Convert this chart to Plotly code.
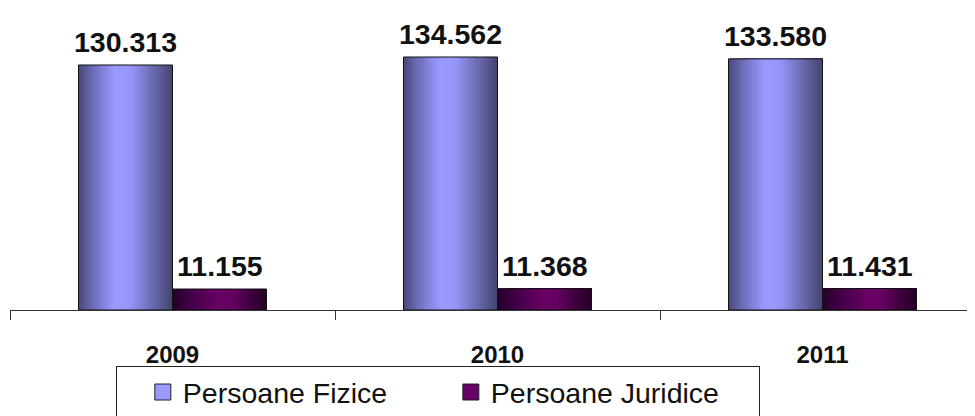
import plotly.graph_objects as go

years = ["2009", "2010", "2011"]
fizice = [130313, 134562, 133580]
juridice = [11155, 11368, 11431]
series_names = ["Persoane Fizice", "Persoane Juridice"]

fiz_stops = [(0.0, (72, 72, 124)), (0.15, (108, 108, 182)), (0.38, (153, 153, 255)),
             (0.55, (150, 150, 250)), (0.8, (104, 104, 172)), (1.0, (68, 68, 112))]
jur_stops = [(0.0, (38, 0, 44)), (0.2, (68, 0, 72)), (0.5, (106, 0, 102)),
             (0.65, (100, 0, 96)), (0.85, (58, 0, 58)), (1.0, (38, 0, 38))]


def shade(stops, t):
    for (t0, c0), (t1, c1) in zip(stops[:-1], stops[1:]):
        if t0 <= t <= t1:
            f = (t - t0) / (t1 - t0) if t1 > t0 else 0
            c = [round(a + (b - a) * f) for a, b in zip(c0, c1)]
            return f"rgb({c[0]},{c[1]},{c[2]})"
    c = stops[-1][1]
    return f"rgb({c[0]},{c[1]},{c[2]})"


def fmt(v):
    return f"{v:,}".replace(",", ".")


CAT_PX = 325          # pixel width of one category
W = 94 / CAT_PX       # bar width in category units
N = 32
FONT = "Liberation Sans, Arial"
fig = go.Figure()

annotations = []
for vals, stops, off in [(fizice, fiz_stops, -W), (juridice, jur_stops, 0.0)]:
    # nested stripes: each stripe runs from its start to the right edge of the bar
    for i in range(N):
        t = (i + 0.5) / N
        fig.add_trace(go.Bar(
            x=years, y=vals, width=W - i * W / N, offset=off + i * W / N,
            marker=dict(color=shade(stops, t), line=dict(width=0)),
            showlegend=False, hoverinfo="skip"))
    fig.add_trace(go.Bar(
        x=years, y=vals, width=W, offset=off,
        marker=dict(color="rgba(0,0,0,0)", line=dict(color="#111111", width=1)),
        showlegend=False, hoverinfo="skip"))
    for idx, v in enumerate(vals):
        annotations.append(dict(
            x=idx + off + W / 2, y=v, xref="x", yref="y", text=fmt(v), showarrow=False,
            xanchor="center", yanchor="bottom", yshift=5,
            font=dict(family=FONT, size=28.5, color="#111111", weight="bold")))

for name, col in zip(series_names, ["#9999ff", "#660066"]):
    fig.add_trace(go.Scatter(
        x=years, y=[None] * 3, name=name, mode="markers",
        marker=dict(symbol="square", size=16, color=col,
                    line=dict(color="#222222", width=1))))

scale = 245 / 130313
L, T, PH = 2, 2, 300
PW = 975 - L
fig.update_layout(
    width=975, height=416,
    margin=dict(l=L, r=0, t=T, b=416 - T - PH, autoexpand=False),
    barmode="overlay",
    plot_bgcolor="white", paper_bgcolor="white",
    showlegend=True,
    annotations=annotations,
    legend=dict(orientation="h", x=(108 - L) / PW, y=(T + PH - 358) / PH,
                xanchor="left", yanchor="top",
                bordercolor="#222222", borderwidth=1,
                title=dict(text="\u00a0\u00a0", side="left",
                           font=dict(family=FONT, size=28.5)),
                font=dict(family=FONT, size=28.5, color="#111111"),
                entrywidth=263, itemclick=False),
    xaxis=dict(type="category", range=[-0.5, -0.5 + PW / CAT_PX],
               showline=True, linecolor="#333333", linewidth=1,
               ticks="outside", ticklen=9, tickcolor="#333333", tickson="boundaries",
               ticklabelstandoff=23, automargin=False,
               tickfont=dict(family=FONT, size=24, color="#111111", weight="bold"),
               showgrid=False, zeroline=False),
    yaxis=dict(range=[0, PH / scale], visible=False, showgrid=False),
)

fig.write_html("out.html")
